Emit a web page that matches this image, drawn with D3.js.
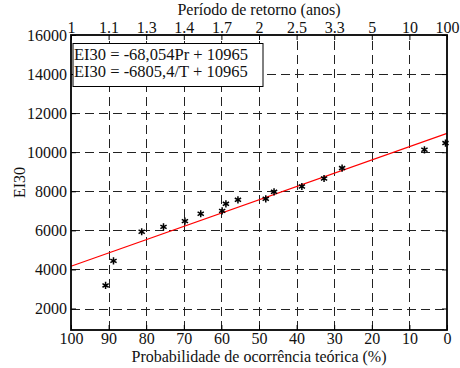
<!DOCTYPE html>
<html>
<head>
<meta charset="utf-8">
<script src="https://cdn.jsdelivr.net/npm/d3@7"></script>
<style>
  html, body { margin: 0; padding: 0; background: #fff; }
  svg { display: block; }
  svg text { font-family: "Liberation Serif", Tinos, "Times New Roman", "Nimbus Roman", FreeSerif, "DejaVu Serif", "Noto Serif", serif; }
</style>
</head>
<body>
<svg id="chart" width="460" height="368"></svg>
<script>
// Probability of occurrence (%) for each observed event and its EI30 value
const probabilidade = [90.8, 88.7, 81.2, 75.4, 69.7, 65.5, 59.8, 58.8, 55.6, 48.2, 46.0, 38.6, 32.7, 27.9, 6.0, 0.4];
const ei30 = [3180, 4440, 5930, 6180, 6475, 6850, 7000, 7360, 7565, 7615, 7975, 8245, 8655, 9190, 10125, 10470];

// Fitted line EI30 = a*Pr + b
const slope = -68.054;
const intercept = 10965;

const xTicks = [100, 90, 80, 70, 60, 50, 40, 30, 20, 10, 0];
const periodoLabels = ["1", "1.1", "1.3", "1.4", "1.7", "2", "2.5", "3.3", "5", "10", "100"];
const yTicks = [2000, 4000, 6000, 8000, 10000, 12000, 14000, 16000];
const equationLines = ["EI30 = -68,054Pr + 10965", "EI30 = -6805,4/T + 10965"];

const svg = d3.select("#chart");
const m = { left: 71, right: 447, top: 35, bottom: 330 };

const x = d3.scaleLinear().domain([100, 0]).range([m.left, m.right]);
const y = d3.scaleLinear().domain([900, 16000]).range([m.bottom, m.top]);

const fontSize = 16;

// dashed grid
const grid = svg.append("g").attr("stroke", "#222").attr("stroke-width", 1)
  .attr("stroke-dasharray", "9,5").attr("fill", "none");
grid.selectAll("line.v").data(xTicks.slice(1, -1)).join("line")
  .attr("x1", d => Math.round(x(d)) + 0.5).attr("x2", d => Math.round(x(d)) + 0.5)
  .attr("y1", m.bottom).attr("y2", m.top);
grid.selectAll("line.h").data(yTicks.slice(0, -1)).join("line")
  .attr("y1", d => Math.round(y(d)) + 0.5).attr("y2", d => Math.round(y(d)) + 0.5)
  .attr("x1", m.left).attr("x2", m.right);

// axes with inward ticks
function styleAxis(g) {
  g.attr("font-family", null).attr("font-size", null);
  g.select(".domain").remove();
  g.selectAll(".tick line").attr("stroke", "#000").attr("stroke-width", 1);
  g.selectAll("text").attr("fill", "#111").style("font-size", fontSize + "px");
}

svg.append("g").attr("transform", `translate(0,${m.bottom})`)
  .call(d3.axisBottom(x).tickValues(xTicks).tickSize(-5).tickPadding(3).tickFormat(d3.format("d")))
  .call(styleAxis);

svg.append("g").attr("transform", `translate(0,${m.top})`)
  .call(d3.axisTop(x).tickValues(xTicks).tickSize(-5).tickPadding(2)
    .tickFormat((d, i) => periodoLabels[i]))
  .call(styleAxis);

svg.append("g").attr("transform", `translate(${m.left},0)`)
  .call(d3.axisLeft(y).tickValues(yTicks).tickSize(-5).tickPadding(4).tickFormat(d3.format("d")))
  .call(styleAxis);

svg.append("g").attr("transform", `translate(${m.right},0)`)
  .call(d3.axisRight(y).tickValues(yTicks).tickSize(-5).tickFormat(""))
  .call(styleAxis);

// fitted line
svg.append("line")
  .attr("x1", x(100)).attr("y1", y(slope * 100 + intercept))
  .attr("x2", x(0)).attr("y2", y(slope * 0 + intercept))
  .attr("stroke", "#ff0000").attr("stroke-width", 1.1);

// observed points (asterisk markers)
const star = d3.symbol().type(d3.symbolAsterisk).size(36);
svg.append("g").selectAll("path").data(probabilidade).join("path")
  .attr("transform", (d, i) => `translate(${x(d)},${y(ei30[i])})`)
  .attr("d", star).attr("fill", "none").attr("stroke", "#000").attr("stroke-width", 1.5);

// axes frame
svg.append("rect")
  .attr("x", m.left).attr("y", m.top)
  .attr("width", m.right - m.left).attr("height", m.bottom - m.top)
  .attr("fill", "none").attr("stroke", "#000").attr("stroke-width", 1.8);

// equation box
const box = svg.append("g").attr("transform", "translate(73,43.5)");
box.append("rect").attr("width", 190).attr("height", 43)
  .attr("fill", "#fff").attr("stroke", "#000").attr("stroke-width", 1);
box.selectAll("text").data(equationLines).join("text")
  .attr("x", 1).attr("y", (d, i) => 16 + i * 17.5)
  .style("font-size", "16.5px").attr("fill", "#111").text(d => d);

// axis titles
svg.append("text").attr("x", (m.left + m.right) / 2).attr("y", 15)
  .attr("text-anchor", "middle").style("font-size", fontSize + "px").attr("fill", "#111")
  .text("Período de retorno (anos)");
svg.append("text").attr("x", (m.left + m.right) / 2).attr("y", 362)
  .attr("text-anchor", "middle").style("font-size", fontSize + "px").attr("fill", "#111")
  .text("Probabilidade de ocorrência teórica (%)");
svg.append("text").attr("transform", `translate(25,${(m.top + m.bottom) / 2}) rotate(-90)`)
  .attr("text-anchor", "middle").style("font-size", fontSize + "px").attr("fill", "#111")
  .text("EI30");
</script>
</body>
</html>
